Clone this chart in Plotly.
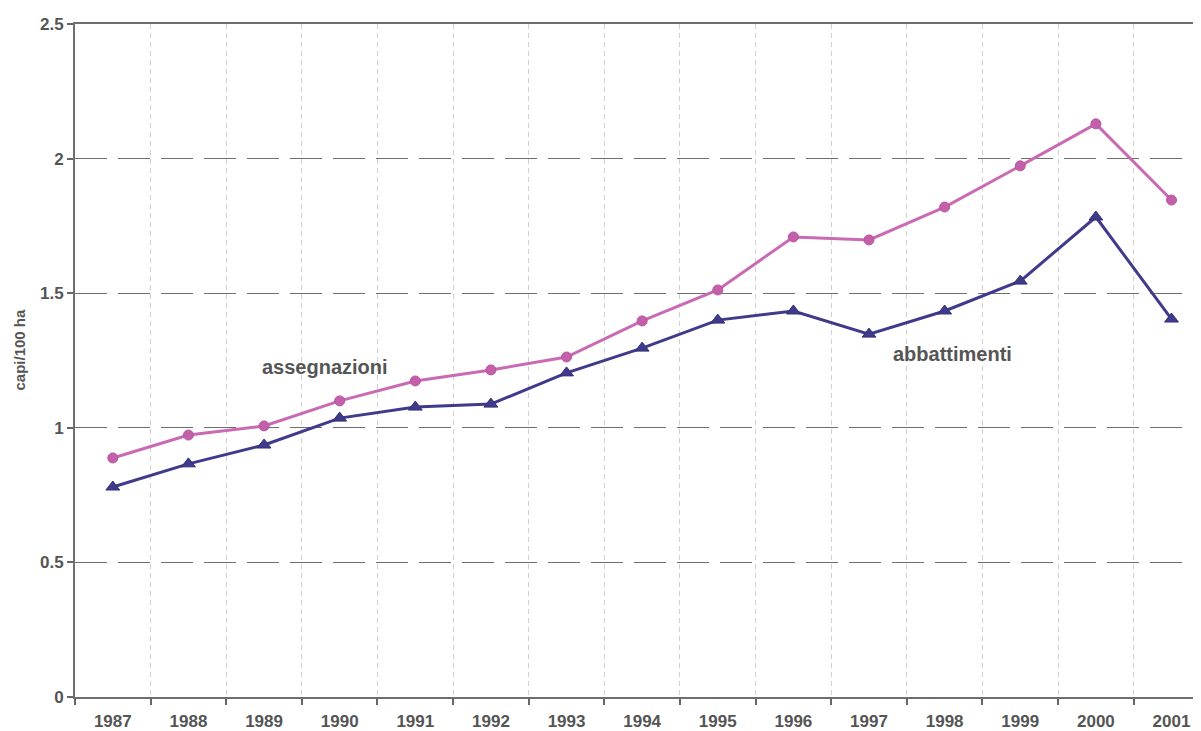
import plotly.graph_objects as go

years = ["1987", "1988", "1989", "1990", "1991", "1992", "1993", "1994",
         "1995", "1996", "1997", "1998", "1999", "2000", "2001"]
assegnazioni = [0.888, 0.973, 1.007, 1.100, 1.174, 1.215, 1.263, 1.397,
                1.512, 1.709, 1.698, 1.820, 1.973, 2.129, 1.846]
abbattimenti = [0.780, 0.866, 0.936, 1.036, 1.077, 1.088, 1.204, 1.296,
                1.400, 1.434, 1.348, 1.434, 1.545, 1.783, 1.404]
y_ticks = [0, 0.5, 1, 1.5, 2, 2.5]
y_ticktext = ["0", "0.5", "1", "1.5", "2", "2.5"]

FONT = "Liberation Sans, Arial, sans-serif"
TXT = "#555555"

fig = go.Figure()
fig.add_trace(go.Scatter(
    x=years, y=assegnazioni, mode="lines+markers", name="assegnazioni",
    line=dict(color="#C86AB4", width=3),
    marker=dict(symbol="circle", size=10, color="#C45FAA",
                line=dict(color="#B855A0", width=1)),
))
fig.add_trace(go.Scatter(
    x=years, y=abbattimenti, mode="lines+markers", name="abbattimenti",
    line=dict(color="#3F3A8A", width=3),
    marker=dict(symbol="triangle-up", size=12, color="#3F3A8A",
                line=dict(color="#34307A", width=1)),
))

fig.add_annotation(x=2.81, y=1.226, xref="x", yref="y",
                   text="<b>assegnazioni</b>", showarrow=False,
                   font=dict(family=FONT, size=20, color=TXT))
fig.add_annotation(x=11.11, y=1.274, xref="x", yref="y",
                   text="<b>abbattimenti</b>", showarrow=False,
                   font=dict(family=FONT, size=20, color=TXT))
fig.add_annotation(x=-0.049, y=1.29, xref="paper", yref="y",
                   xanchor="center", yanchor="middle", showarrow=False,
                   text="<b>capi/100 ha</b>", textangle=-90,
                   font=dict(family=FONT, size=15, color=TXT))

fig.update_layout(
    width=1193, height=723,
    margin=dict(l=67, r=0, t=16, b=34),
    paper_bgcolor="white", plot_bgcolor="white",
    showlegend=False,
    font=dict(family=FONT, size=17, color=TXT),
    xaxis=dict(
        type="category", range=[-0.5, 14.39], automargin=False,
        tickson="boundaries", ticks="outside", ticklen=6, tickcolor="#666666",
        tickwidth=1.5, ticklabelstandoff=8,
        showgrid=True, gridcolor="#D0D0D0", gridwidth=1, griddash="5px,4px",
        showline=True, linecolor="#6E6E6E", linewidth=2, mirror=True,
        tickfont=dict(family=FONT, size=17, color=TXT),
        tickprefix="<b>", ticksuffix="</b>",
    ),
    yaxis=dict(
        range=[0, 2.5], tickvals=y_ticks, automargin=False,
        ticktext=["<b>" + t + "</b>" for t in y_ticktext],
        ticks="outside", ticklen=6, tickcolor="#666666", tickwidth=1.5,
        showgrid=True, gridcolor="#6E6E6E", gridwidth=1, griddash="32px,11px",
        showline=True, linecolor="#6E6E6E", linewidth=2,
        zeroline=False,
        tickfont=dict(family=FONT, size=17, color=TXT),
    ),
)

fig.write_html("out.html")
